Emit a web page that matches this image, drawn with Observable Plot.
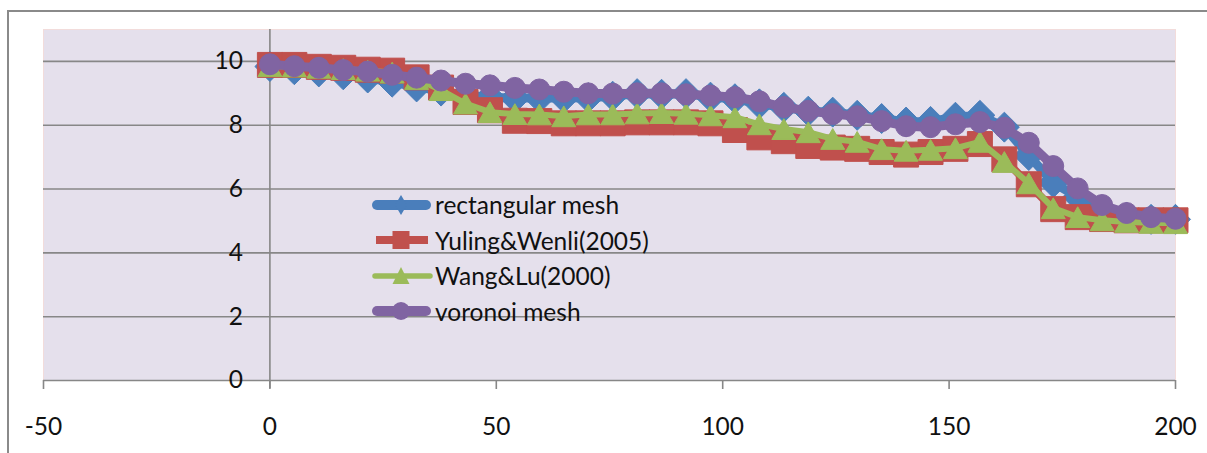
<!DOCTYPE html>
<html><head><meta charset="utf-8">
<script src="https://cdn.jsdelivr.net/npm/d3@7"></script>
<script src="https://cdn.jsdelivr.net/npm/@observablehq/plot@0.6"></script>
<style>
body{margin:0;background:#fff;font-family:Lato,sans-serif}
#wrap{position:relative;width:1207px;height:453px;overflow:hidden}
#border{position:absolute;left:7px;top:10px;width:1300px;height:500px;border-left:2px solid #8a8a8a;border-top:2px solid #8a8a8a;pointer-events:none}
#legend{position:absolute;left:370px;top:187px;font:24.5px Lato,sans-serif;color:#111}
.row{display:flex;align-items:center;height:35.5px;white-space:nowrap}
.row svg{display:block;margin-right:2px}
</style></head><body><div id="wrap"><div id="chart"></div><div id="border"></div><div id="legend"></div></div>
<script>
const xValues = [0,5.4,10.8,16.2,21.6,27.0,32.4,37.8,43.2,48.6,54.1,59.5,64.9,70.3,75.7,81.1,86.5,91.9,97.3,102.7,108.1,113.5,118.9,124.3,129.7,135.1,140.5,145.9,151.4,156.8,162.2,167.6,173.0,178.4,183.8,189.2,194.6,200];
const rectangularMesh = [9.84,9.74,9.67,9.58,9.48,9.35,9.20,9.07,8.95,8.88,8.85,8.85,8.85,8.86,8.91,8.99,8.97,8.99,8.88,8.83,8.67,8.56,8.44,8.41,8.31,8.21,8.10,8.12,8.25,8.31,7.94,7.05,6.20,5.75,5.25,5.12,5.05,5.05];
const yulingWenli = [9.89,9.89,9.83,9.80,9.74,9.71,9.50,9.18,8.73,8.47,8.14,8.13,8.06,8.06,8.06,8.09,8.09,8.09,8.06,7.85,7.62,7.50,7.35,7.30,7.26,7.16,7.08,7.16,7.26,7.41,6.93,6.15,5.37,5.12,5.06,5.02,5.02,5.02];
const wangLu = [9.85,9.84,9.80,9.76,9.71,9.65,9.45,9.10,8.68,8.41,8.35,8.34,8.28,8.34,8.34,8.37,8.38,8.36,8.31,8.25,8.03,7.88,7.78,7.57,7.48,7.25,7.20,7.23,7.28,7.48,6.85,6.18,5.40,5.12,5.02,4.97,4.94,4.93];
const voronoiMesh = [9.91,9.85,9.80,9.73,9.68,9.58,9.49,9.40,9.30,9.25,9.17,9.12,9.05,9.00,8.99,9.00,9.00,8.97,8.93,8.88,8.75,8.57,8.45,8.35,8.28,8.13,7.97,7.94,8.03,8.10,7.92,7.45,6.72,6.02,5.50,5.25,5.12,5.07];
const seriesNames = ["rectangular mesh","Yuling&Wenli(2005)","Wang&Lu(2000)","voronoi mesh"];
const seriesColors = ["#4A7EBB","#C0504D","#9BBB59","#8064A2"];
const xTicks = [-50,0,50,100,150,200];
const yTicks = [0,2,4,6,8,10];

const seriesValues = [rectangularMesh, yulingWenli, wangLu, voronoiMesh];
const styles = [
  {symbol:"diamond2", r:13.5, sw:9, dy:0},
  {symbol:"square", r:14.1, sw:8, dy:0},
  {symbol:"triangle", r:8.9, sw:6, dy:3.5},
  {symbol:"circle", r:10.5, sw:9, dy:0}
];
const grid = "#878787";
const marks = [
  Plot.frame({fill:"#E5E0EC", stroke:"#F2DCDB"}),
  Plot.ruleY(yTicks, {stroke:grid, strokeWidth:1.6}),
  Plot.ruleX([0], {stroke:grid, strokeWidth:1.6, insetBottom:-8}),
  Plot.axisX(xTicks, {tickSize:9, tickPadding:28, fontSize:24.5, stroke:grid, strokeWidth:1.6, fill:"#111", label:null, tickFormat:d=>String(d)}),
  Plot.text(yTicks, {x:0, y:d=>d, text:d=>String(d), textAnchor:"end", dx:-27, fontSize:24.5, fill:"#111"})
];
seriesValues.forEach((vals, k) => {
  const rows = xValues.map((x, i) => ({x, y: vals[i]}));
  const s = styles[k];
  marks.push(Plot.line(rows, {x:"x", y:"y", stroke:seriesColors[k], strokeWidth:s.sw, strokeLinejoin:"round"}));
  marks.push(Plot.dot(rows, {x:"x", y:"y", symbol:s.symbol, r:s.r, fill:seriesColors[k], stroke:seriesColors[k], strokeWidth:1, dy:s.dy}));
});
const chart = Plot.plot({
  width:1207, height:453,
  marginLeft:43, marginRight:32, marginTop:29, marginBottom:73,
  style:{fontFamily:"Lato, sans-serif", background:"transparent", overflow:"visible"},
  x:{domain:[-50,200], axis:null, label:null},
  y:{domain:[0,11], axis:null, label:null},
  marks
});
document.getElementById("chart").appendChild(chart);

// legend
const swatch = [
  `<line x1="7" y1="15" x2="56" y2="15" stroke="${seriesColors[0]}" stroke-width="10" stroke-linecap="round"/><path d="M31,5 L37,15 L31,25 L25,15Z" fill="${seriesColors[0]}"/>`,
  `<line x1="6" y1="15" x2="58" y2="15" stroke="${seriesColors[1]}" stroke-width="8"/><rect x="22.5" y="6" width="17" height="18" fill="${seriesColors[1]}"/>`,
  `<line x1="5" y1="15" x2="60" y2="15" stroke="${seriesColors[2]}" stroke-width="5.5" stroke-linecap="round"/><path d="M31,6 L39.5,23 L22.5,23Z" fill="${seriesColors[2]}"/>`,
  `<line x1="7" y1="15" x2="56" y2="15" stroke="${seriesColors[3]}" stroke-width="10" stroke-linecap="round"/><circle cx="31" cy="15" r="9" fill="${seriesColors[3]}"/>`
];
const leg = document.getElementById("legend");
seriesNames.forEach((name, k) => {
  const row = document.createElement("div");
  row.className = "row";
  row.innerHTML = `<svg width="63" height="30">${swatch[k]}</svg><span>${name.replace(/&/g,"&amp;")}</span>`;
  leg.appendChild(row);
});
</script>
</body></html>
